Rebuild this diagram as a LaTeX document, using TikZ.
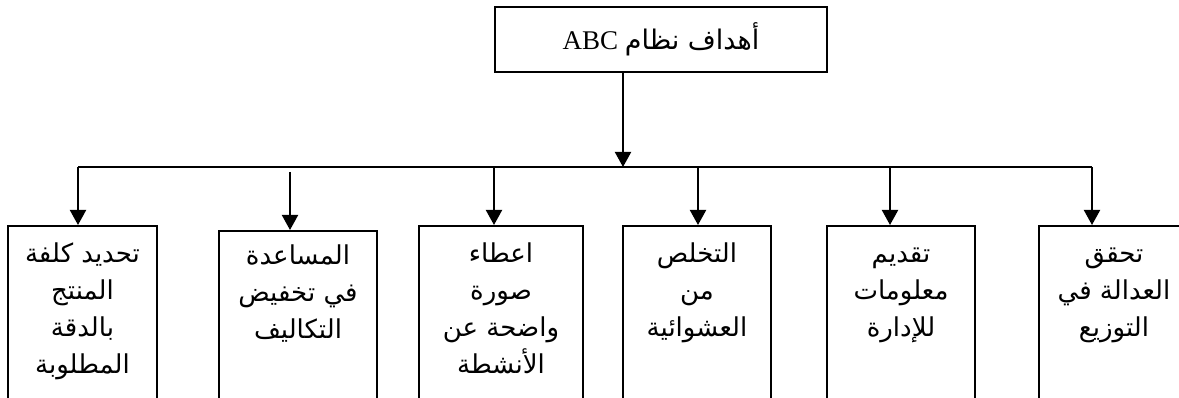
\documentclass[tikz,border=0pt]{standalone}
\usepackage{fontspec}
\setmainfont{Liberation Serif}
\newfontfamily\arabicfont[Script=Arabic]{DejaVu Sans}
\TeXXeTstate=1
\usetikzlibrary{arrows.meta}
\newcommand\arl[1]{\strut\beginR #1\endR}
\begin{document}
\begin{tikzpicture}[x=1pt,y=-1pt,
  line width=2pt,
  arr/.style={draw, line width=2pt, -{Triangle[length=15pt,width=16pt]}},
  goalbox/.style={draw, line width=2pt, rectangle, anchor=north west, inner sep=0pt, minimum height=220pt},
  goaltext/.style={anchor=north, inner sep=0pt, align=center, font=\arabicfont\fontsize{26}{37}\selectfont},
  titlebox/.style={draw, line width=2pt, rectangle, anchor=north west, inner sep=0pt, minimum width=332pt, minimum height=65pt}
]
\clip (0,0) rectangle (1179,398);
\fill[white] (0,0) rectangle (1179,398);

% top box
\node[titlebox] (top) at (494,6) {};
\node[anchor=center, inner sep=0pt, font=\fontsize{27}{32}\selectfont] (toptext) at (top.center)
  {\beginR{\arabicfont أهداف نظام} \beginL ABC\endL\endR};

% goal boxes
\node[goalbox, minimum width=149pt] (b1) at (7,225) {};
\node[goalbox, minimum width=158pt] (b2) at (218,230) {};
\node[goalbox, minimum width=164pt] (b3) at (418,225) {};
\node[goalbox, minimum width=148pt] (b4) at (622,225) {};
\node[goalbox, minimum width=148pt] (b5) at (826,225) {};
\node[goalbox, minimum width=150pt] (b6) at (1038,225) {};

\node[goaltext] (t1) at ([yshift=-11pt]b1.north) {\arl{تحديد كلفة}\\\arl{المنتج}\\\arl{بالدقة}\\\arl{المطلوبة}};
\node[goaltext] (t2) at ([yshift=-8pt]b2.north) {\arl{المساعدة}\\\arl{في تخفيض}\\\arl{التكاليف}};
\node[goaltext] (t3) at ([yshift=-11pt]b3.north) {\arl{اعطاء}\\\arl{صورة}\\\arl{واضحة عن}\\\arl{الأنشطة}};
\node[goaltext] (t4) at ([yshift=-11pt]b4.north) {\arl{التخلص}\\\arl{من}\\\arl{العشوائية}};
\node[goaltext] (t5) at ([yshift=-11pt]b5.north) {\arl{تقديم}\\\arl{معلومات}\\\arl{للإدارة}};
\node[goaltext] (t6) at ([yshift=-11pt]b6.north) {\arl{تحقق}\\\arl{العدالة في}\\\arl{التوزيع}};

% connectors
\coordinate (hub) at (623,167);
\coordinate (j1) at (78,167);
\coordinate (j2) at (290,172);
\coordinate (j3) at (494,167);
\coordinate (j4) at (698,167);
\coordinate (j5) at (890,167);
\coordinate (j6) at (1092,167);

\draw[arr] (top.south -| hub) -- (hub);
\draw[line width=2pt] (j1) -- (j6);
\draw[arr] (j1) -- (j1 |- b1.north);
\draw[arr] (j2) -- (j2 |- b2.north);
\draw[arr] (j3) -- (j3 |- b3.north);
\draw[arr] (j4) -- (j4 |- b4.north);
\draw[arr] (j5) -- (j5 |- b5.north);
\draw[arr] (j6) -- (j6 |- b6.north);
\end{tikzpicture}
\end{document}
